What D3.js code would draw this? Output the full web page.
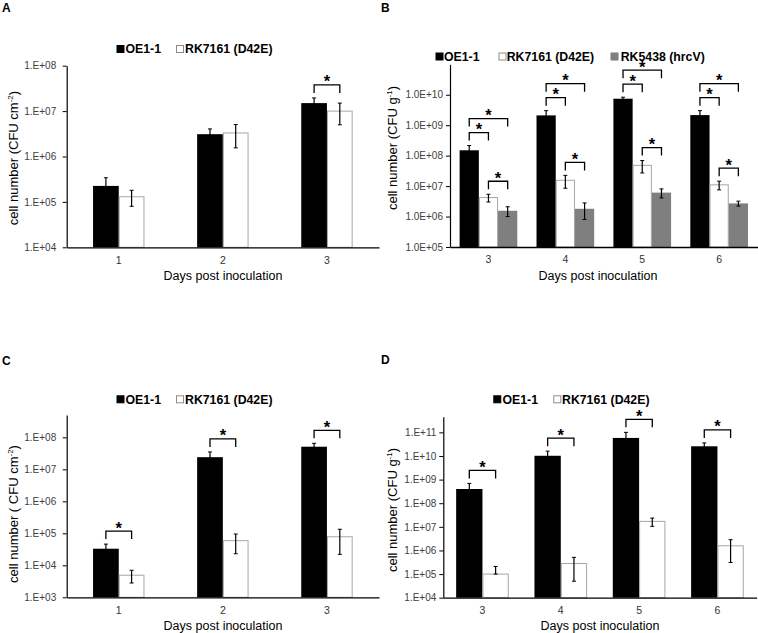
<!DOCTYPE html>
<html><head><meta charset="utf-8">
<script src="https://cdn.jsdelivr.net/npm/d3@7"></script>
<style>body{margin:0;background:#fff} svg{display:block;font-family:Arial,"Liberation Sans",sans-serif}</style>
</head><body><svg id="c" width="758" height="633"></svg>
<script>
// ---------- DATA ----------
const seriesNames = ["OE1-1", "RK7161 (D42E)", "RK5438 (hrcV)"];

// Panel A
const daysA = ["1", "2", "3"];
const oeA = [2.25e5, 3.1e6, 1.5e7];
const oeA_sd = [1.15e5, 0.95e6, 4.5e6];
const rkA = [1.3e5, 3.3e6, 1.0e7];
const rkA_sd = [5e4, 1.75e6, 5e6];
const ticksA = [1e4, 1e5, 1e6, 1e7, 1e8];
const tickLabelsA = ["1.E+04", "1.E+05", "1.E+06", "1.E+07", "1.E+08"];
const sigA = [[2, 0, 1, 0]]; // [day index, series a, series b, level]

// Panel B
const daysB = ["3", "4", "5", "6"];
const oeB = [1.5e8, 2.1e9, 7.4e9, 2.15e9];
const oeB_sd = [6.5e7, 9e8, 9e8, 8.5e8];
const rkB = [4.2e6, 1.55e7, 4.8e7, 1.1e7];
const rkB_sd = [1.2e6, 7e6, 2.1e7, 3.5e6];
const hrcB = [1.55e6, 1.8e6, 6.1e6, 2.7e6];
const hrcB_sd = [5.5e5, 1.0e6, 2.0e6, 5e5];
const ticksB = [1e5, 1e6, 1e7, 1e8, 1e9, 1e10];
const tickLabelsB = ["1.0E+05", "1.0E+06", "1.0E+07", "1.0E+08", "1.0E+09", "1.0E+10"];
const sigB = [[0,0,1,0],[0,0,2,1],[0,1,2,0],[1,0,1,0],[1,0,2,1],[1,1,2,0],
              [2,0,1,0],[2,0,2,1],[2,1,2,0],[3,0,1,0],[3,0,2,1],[3,1,2,0]];

// Panel C
const daysC = ["1", "2", "3"];
const oeC = [3.3e4, 2.4e7, 5.1e7];
const oeC_sd = [1.3e4, 1.1e7, 1.4e7];
const rkC = [4.9e3, 5.9e4, 7.8e4];
const rkC_sd = [2.1e3, 3.6e4, 5.6e4];
const ticksC = [1e3, 1e4, 1e5, 1e6, 1e7, 1e8];
const tickLabelsC = ["1.E+03", "1.E+04", "1.E+05", "1.E+06", "1.E+07", "1.E+08"];
const sigC = [[0,0,1,0],[1,0,1,0],[2,0,1,0]];

// Panel D
const daysD = ["3", "4", "5", "6"];
const oeD = [4.0e8, 1.02e10, 5.8e10, 2.57e10];
const oeD_sd = [2.9e8, 5.8e9, 4.2e10, 1.0e10];
const rkD = [1.0e5, 2.8e5, 1.7e7, 1.58e6];
const rkD_sd = [1.1e5, 2.3e5, 6.5e6, 1.27e6];
const ticksD = [1e4, 1e5, 1e6, 1e7, 1e8, 1e9, 1e10, 1e11];
const tickLabelsD = ["1.E+04", "1.E+05", "1.E+06", "1.E+07", "1.E+08", "1.E+09", "1.E+10", "1.E+11"];
const sigD = [[0,0,1,0],[1,0,1,0],[2,0,1,0],[3,0,1,0]];

// ---------- STYLE ----------
const fills = ["#000000", "#ffffff", "#7f7f7f"];
const strokes = ["#000000", "#a6a6a6", "#7f7f7f"];
const svg = d3.select("#c");

function panel(cfg) {
  const g = svg.append("g");
  const x = d3.scaleBand().domain(cfg.days).range([cfg.x0, cfg.x1]).padding(0);
  const y = d3.scaleLog().domain(cfg.domain).range([cfg.yb, cfg.yt]);
  const nS = cfg.values.length;
  const groupW = x.bandwidth() * cfg.groupFrac;
  const xs = d3.scaleBand().domain(d3.range(nS)).range([-groupW / 2, groupW / 2]);
  const cx = (i, s) => x(cfg.days[i]) + x.bandwidth() / 2 + xs(s) + xs.bandwidth() / 2;

  // bars
  cfg.values.forEach((vals, s) => {
    g.selectAll(null).data(vals).enter().append("rect")
      .attr("x", (d, i) => cx(i, s) - xs.bandwidth() / 2 + (s === 1 ? 0.5 : 0))
      .attr("width", xs.bandwidth() - (s === 1 ? 1 : 0))
      .attr("y", d => y(d))
      .attr("height", d => cfg.yb - y(d))
      .attr("fill", fills[s])
      .attr("stroke", s === 1 ? strokes[s] : "none")
      .attr("stroke-width", 1);
  });

  // error bars
  cfg.values.forEach((vals, s) => {
    vals.forEach((v, i) => {
      const sd = cfg.sds[s][i];
      const hi = y(v + sd);
      const lo = (v - sd) > 0 ? y(v - sd) : y(v);
      const xc = cx(i, s);
      const col = "#000";
      g.append("line").attr("x1", xc).attr("x2", xc).attr("y1", hi).attr("y2", lo)
        .attr("stroke", col).attr("stroke-width", 1.2);
      [hi, lo].forEach(yy => g.append("line").attr("x1", xc - 2).attr("x2", xc + 2)
        .attr("y1", yy).attr("y2", yy).attr("stroke", col).attr("stroke-width", 1));
    });
  });

  // axes
  const ya = g.append("g").attr("transform", `translate(${cfg.x0},0)`)
    .call(d3.axisLeft(y).tickValues(cfg.ticks).tickFormat((d, i) => cfg.tickLabels[i])
      .tickSize(4).tickSizeOuter(0).tickPadding(cfg.tickPad));
  ya.select(".domain").attr("stroke", "#000").attr("stroke-width", 1.2);
  ya.selectAll(".tick line").attr("stroke", "#000");
  ya.selectAll(".tick text").attr("font-size", 10).attr("fill", "#404040")
    .attr("font-family", "Arial, 'Liberation Sans', sans-serif");

  const xa = g.append("g").attr("transform", `translate(0,${cfg.yb})`)
    .call(d3.axisBottom(x).tickSize(0).tickSizeOuter(0).tickPadding(9));
  xa.select(".domain").attr("stroke", "#000").attr("stroke-width", 1.3);
  xa.selectAll(".tick text").attr("font-size", 10.5).attr("fill", "#333")
    .attr("font-family", "Arial, 'Liberation Sans', sans-serif");

  // significance brackets
  cfg.sig.forEach(([i, a, b, lvl]) => {
    const topA = y(cfg.values[a][i] + cfg.sds[a][i]);
    const topB = y(cfg.values[b][i] + cfg.sds[b][i]);
    const yl = Math.min(topA, topB) - 13 - lvl * 14;
    const xa1 = cx(i, a), xb1 = cx(i, b);
    g.append("path").attr("d", `M${xa1},${yl + 8}V${yl}H${xb1}V${yl + 8}`)
      .attr("fill", "none").attr("stroke", "#000").attr("stroke-width", 1.3);
    g.append("text").attr("x", (xa1 + xb1) / 2).attr("y", yl + 2.5)
      .attr("text-anchor", "middle").attr("font-size", 16.5).attr("font-weight", "bold").text("*");
  });

  // legend
  cfg.legend.forEach(([sx, tx], s) => {
    g.append("rect").attr("x", sx + 0.5).attr("y", cfg.legY - 3.5).attr("width", 7).attr("height", 7)
      .attr("fill", fills[s]).attr("stroke", s === 1 ? "#8c8c8c" : fills[s]).attr("stroke-width", 1);
    g.append("text").attr("x", tx).attr("y", cfg.legY + 4.4).attr("font-size", 12.3)
      .attr("font-weight", "bold").text(seriesNames[s]);
  });

  // axis titles
  g.append("text").attr("x", cfg.xtX).attr("y", cfg.yb + 32.5).attr("text-anchor", "middle")
    .attr("font-size", 12.5).text("Days post inoculation");
  const yt = g.append("text").attr("transform", `translate(${cfg.ytX},${cfg.ytY}) rotate(-90)`)
    .attr("text-anchor", "middle").attr("font-size", 13);
  yt.append("tspan").text(cfg.ytitle[0]);
  yt.append("tspan").attr("dy", -5).attr("font-size", 8).text(cfg.ytitle[1]);
  yt.append("tspan").attr("dy", 5).text(")");

  // panel letter
  g.append("text").attr("x", cfg.lx).attr("y", cfg.ly).attr("font-size", 12)
    .attr("font-weight", "bold").text(cfg.letter);
}

panel({
  letter: "A", lx: 2, ly: 12,
  days: daysA, values: [oeA, rkA], sds: [oeA_sd, rkA_sd],
  x0: 66.7, x1: 379, yb: 247.3, yt: 65.7, domain: [1e4, 1e8], groupFrac: 0.494,
  ticks: ticksA, tickLabels: tickLabelsA, tickPad: 6.5, sig: sigA,
  legend: [[116.5, 125.5], [176, 185]], legY: 49,
  xtX: 223, ytX: 18, ytY: 158, ytitle: ["cell number (CFU cm", "-2"]
});
panel({
  letter: "B", lx: 381, ly: 12,
  days: daysB, values: [oeB, rkB, hrcB], sds: [oeB_sd, rkB_sd, hrcB_sd],
  x0: 450, x1: 757.6, yb: 247, yt: 64.3, domain: [1e5, 1e11], groupFrac: 0.75,
  ticks: ticksB, tickLabels: tickLabelsB, tickPad: 3, sig: sigB,
  legend: [[435.5, 444], [498.5, 506.7], [610.5, 620.7]], legY: 56.5,
  xtX: 598, ytX: 397, ytY: 148, ytitle: ["cell number (CFU g", "-1"]
});
panel({
  letter: "C", lx: 2, ly: 365,
  days: daysC, values: [oeC, rkC], sds: [oeC_sd, rkC_sd],
  x0: 66.7, x1: 379, yb: 597.3, yt: 415, domain: [1e3, 5e8], groupFrac: 0.494,
  ticks: ticksC, tickLabels: tickLabelsC, tickPad: 6.5, sig: sigC,
  legend: [[116.5, 125.5], [176, 185]], legY: 399.3,
  xtX: 223, ytX: 18, ytY: 514, ytitle: ["cell number ( CFU cm", "-2"]
});
panel({
  letter: "D", lx: 381, ly: 364,
  days: daysD, values: [oeD, rkD], sds: [oeD_sd, rkD_sd],
  x0: 443.3, x1: 756.6, yb: 597.7, yt: 416.7, domain: [1e4, 4.6e11], groupFrac: 0.672,
  ticks: ticksD, tickLabels: tickLabelsD, tickPad: 3, sig: sigD,
  legend: [[493.3, 502.5], [553.3, 562]], legY: 399.3,
  xtX: 600, ytX: 397, ytY: 510, ytitle: ["cell number (CFU g", "-1"]
});
</script>
</body></html>
